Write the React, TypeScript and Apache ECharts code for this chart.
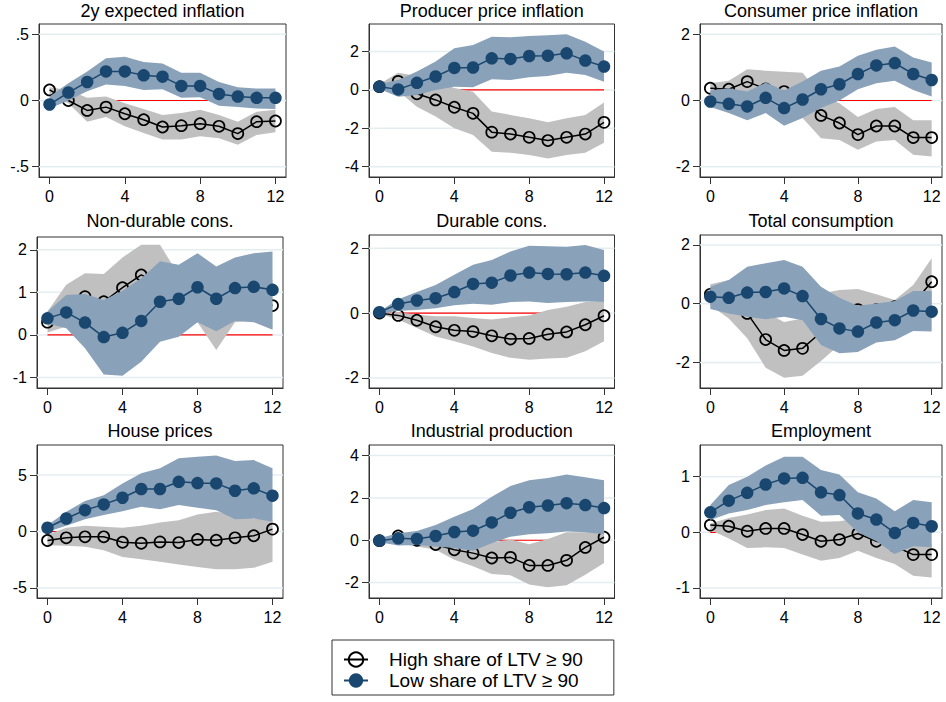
import React, { useEffect, useRef } from "react";
import * as echarts from "echarts";

const horizons = [0, 1, 2, 3, 4, 5, 6, 7, 8, 9, 10, 11, 12];
const xTicks = [0, 4, 8, 12];
const HIGH = "High share of LTV \u2265 90";
const LOW = "Low share of LTV \u2265 90";

// 2y expected inflation
const expHigh = [0.08, 0.0, -0.075, -0.05, -0.1, -0.145, -0.2, -0.19, -0.175, -0.195, -0.25, -0.16, -0.155];
const expHighLo = [0.03, -0.02, -0.16, -0.125, -0.195, -0.245, -0.295, -0.295, -0.27, -0.285, -0.335, -0.26, -0.24];
const expHighHi = [0.1, 0.08, 0.02, 0.03, -0.02, -0.065, -0.11, -0.095, -0.07, -0.11, -0.16, -0.085, -0.07];
const expLow = [-0.03, 0.06, 0.14, 0.22, 0.22, 0.19, 0.18, 0.11, 0.11, 0.05, 0.03, 0.02, 0.02];
const expLowLo = [-0.06, 0.0, 0.07, 0.12, 0.11, 0.08, 0.085, 0.02, 0.025, -0.04, -0.05, -0.06, -0.065];
const expLowHi = [0.03, 0.13, 0.22, 0.32, 0.33, 0.29, 0.28, 0.21, 0.21, 0.14, 0.1, 0.09, 0.09];

// Producer price inflation
const ppiHigh = [0.17, 0.45, -0.2, -0.52, -0.9, -1.22, -2.2, -2.3, -2.47, -2.64, -2.47, -2.3, -1.69];
const ppiHighLo = [0.03, -0.05, -0.87, -1.39, -2.0, -2.35, -3.22, -3.27, -3.39, -3.57, -3.39, -3.27, -2.75];
const ppiHighHi = [0.31, 0.9, 0.73, 0.4, 0.1, -0.1, -1.13, -1.3, -1.48, -1.69, -1.48, -1.3, -0.66];
const ppiLow = [0.17, 0.03, 0.37, 0.7, 1.15, 1.17, 1.65, 1.62, 1.77, 1.79, 1.91, 1.53, 1.22];
const ppiLowLo = [0.05, -0.35, -0.26, 0.0, 0.17, 0.14, 0.56, 0.52, 0.66, 0.73, 0.9, 0.78, 0.43];
const ppiLowHi = [0.31, 0.52, 0.96, 1.48, 2.17, 2.35, 2.78, 2.75, 2.82, 2.85, 2.9, 2.52, 2.0];

// Consumer price inflation
const cpiHigh = [0.37, 0.34, 0.57, 0.35, 0.27, 0.1, -0.45, -0.68, -1.03, -0.77, -0.77, -1.12, -1.12];
const cpiHighLo = [0.17, 0.12, 0.22, 0.02, -0.28, -0.53, -1.14, -1.19, -1.49, -1.24, -1.19, -1.64, -1.69];
const cpiHighHi = [0.52, 0.6, 0.94, 0.9, 0.87, 0.84, 0.14, -0.08, -0.5, -0.26, -0.2, -0.6, -0.6];
const cpiLow = [-0.03, -0.1, -0.18, 0.08, -0.23, 0.03, 0.34, 0.49, 0.8, 1.06, 1.13, 0.8, 0.62];
const cpiLowLo = [-0.2, -0.38, -0.6, -0.38, -0.76, -0.53, -0.23, 0.0, 0.34, 0.52, 0.6, 0.32, 0.12];
const cpiLowHi = [0.3, 0.37, 0.27, 0.54, 0.3, 0.57, 0.9, 1.03, 1.35, 1.53, 1.63, 1.3, 1.15];

// Non-durable consumption
const ndHigh = [0.3, 0.55, 0.9, 0.78, 1.11, 1.41, 1.2, 1.0, 0.8, 0.6, 0.8, 0.85, 0.69];
const ndHighLo = [0.06, 0.2, 0.3, 0.2, 0.4, 0.6, 0.2, 0.1, 0.3, -0.35, 0.3, 0.35, 0.15];
const ndHighHi = [0.55, 1.18, 1.45, 1.43, 1.82, 2.12, 2.12, 1.4, 1.5, 1.5, 1.6, 1.5, 1.3];
const ndLow = [0.39, 0.53, 0.29, -0.05, 0.05, 0.33, 0.78, 0.85, 1.12, 0.85, 1.1, 1.13, 1.06];
const ndLowLo = [0.27, 0.16, -0.31, -0.93, -0.96, -0.63, -0.16, -0.04, 0.3, 0.09, 0.33, 0.3, 0.12];
const ndLowHi = [0.55, 0.94, 0.96, 0.82, 1.04, 1.33, 1.73, 1.65, 1.92, 1.61, 1.82, 1.92, 1.96];

// Durable consumption
const durHigh = [0.0, -0.07, -0.22, -0.42, -0.53, -0.57, -0.7, -0.8, -0.78, -0.65, -0.58, -0.36, -0.08];
const durHighLo = [-0.03, -0.2, -0.46, -0.72, -0.87, -1.03, -1.23, -1.38, -1.44, -1.4, -1.38, -1.18, -0.87];
const durHighHi = [0.0, 0.03, -0.05, -0.1, -0.1, -0.15, -0.2, -0.13, -0.07, 0.1, 0.2, 0.34, 0.34];
const durLow = [0.03, 0.28, 0.39, 0.46, 0.65, 0.9, 0.94, 1.16, 1.25, 1.21, 1.2, 1.25, 1.15];
const durLowLo = [-0.03, 0.07, 0.1, 0.15, 0.24, 0.29, 0.26, 0.34, 0.36, 0.31, 0.34, 0.36, 0.34];
const durLowHi = [0.05, 0.43, 0.65, 0.87, 1.18, 1.49, 1.64, 1.9, 2.08, 2.06, 2.05, 2.1, 1.95];

// Total consumption
const totHigh = [0.32, 0.1, -0.33, -1.22, -1.59, -1.52, -0.97, -0.6, -0.2, -0.2, -0.1, 0.0, 0.75];
const totHighLo = [-0.05, -0.5, -1.18, -2.18, -2.52, -2.45, -1.95, -1.4, -1.1, -0.85, -0.8, -0.6, 0.0];
const totHighHi = [0.66, 0.81, 0.55, -0.3, -0.62, -0.5, 0.35, 0.47, 0.5, 0.32, 0.13, 0.64, 1.55];
const totLow = [0.24, 0.2, 0.38, 0.4, 0.52, 0.26, -0.52, -0.84, -0.95, -0.64, -0.56, -0.23, -0.27];
const totLowLo = [-0.18, -0.33, -0.44, -0.53, -0.44, -0.56, -1.41, -1.69, -1.64, -1.32, -1.24, -0.93, -0.95];
const totLowHi = [0.58, 0.81, 1.26, 1.38, 1.49, 1.26, 0.58, 0.2, -0.07, 0.01, 0.09, 0.43, 0.43];

// House prices
const hpHigh = [-0.8, -0.56, -0.47, -0.47, -0.95, -1.04, -0.92, -0.98, -0.71, -0.77, -0.56, -0.38, 0.21];
const hpHighLo = [-1.21, -1.27, -1.36, -1.66, -2.25, -2.46, -2.69, -2.93, -3.14, -3.34, -3.34, -3.22, -2.69];
const hpHighHi = [-0.27, 0.33, 0.5, 0.41, 0.33, 0.5, 0.8, 1.0, 1.5, 1.75, 1.5, 1.15, 1.0];
const hpLow = [0.33, 1.15, 1.89, 2.4, 2.99, 3.76, 3.76, 4.4, 4.29, 4.26, 3.61, 3.82, 3.17];
const hpLowLo = [-0.03, 0.5, 1.09, 1.45, 1.8, 2.19, 1.98, 2.34, 2.1, 1.89, 1.09, 1.15, 0.86];
const hpLowHi = [0.56, 1.75, 2.69, 3.22, 4.26, 5.15, 5.59, 6.48, 6.63, 6.72, 6.24, 6.33, 5.59];

// Industrial production
const ipHigh = [-0.02, 0.2, 0.0, -0.2, -0.45, -0.61, -0.84, -0.81, -1.19, -1.19, -0.95, -0.34, 0.14];
const ipHighLo = [-0.09, -0.14, -0.3, -0.45, -0.92, -1.23, -1.59, -1.66, -2.09, -2.22, -2.13, -1.63, -1.08];
const ipHighHi = [0.06, 0.33, 0.2, 0.1, 0.1, 0.0, -0.1, 0.03, -0.19, 0.06, 0.38, 0.38, 0.48];
const ipLow = [-0.02, 0.09, 0.06, 0.2, 0.39, 0.45, 0.84, 1.3, 1.56, 1.64, 1.75, 1.66, 1.52];
const ipLowLo = [-0.09, -0.25, -0.22, -0.3, -0.37, -0.5, -0.14, 0.17, 0.28, 0.33, 0.41, 0.38, 0.28];
const ipLowHi = [0.09, 0.33, 0.44, 0.72, 1.11, 1.47, 2.05, 2.56, 2.83, 2.94, 3.11, 2.98, 2.83];

// Employment
const empHigh = [0.13, 0.11, 0.02, 0.07, 0.07, -0.04, -0.16, -0.13, -0.02, -0.16, -0.25, -0.4, -0.4];
const empHighLo = [0.04, -0.11, -0.28, -0.27, -0.28, -0.4, -0.51, -0.46, -0.33, -0.46, -0.57, -0.78, -0.81];
const empHighHi = [0.16, 0.26, 0.32, 0.4, 0.43, 0.3, 0.19, 0.2, 0.26, 0.13, 0.0, -0.05, -0.2];
const empLow = [0.36, 0.57, 0.71, 0.86, 0.97, 0.98, 0.72, 0.67, 0.34, 0.23, -0.01, 0.17, 0.11];
const empLowLo = [0.22, 0.34, 0.4, 0.49, 0.54, 0.58, 0.3, 0.31, 0.0, -0.16, -0.39, -0.25, -0.27];
const empLowHi = [0.49, 0.85, 1.0, 1.2, 1.36, 1.36, 1.12, 1.04, 0.72, 0.61, 0.38, 0.58, 0.54];

const panelData = [
  { title: "2y expected inflation", yTicks: [-0.5, 0, 0.5], high: expHigh, highLo: expHighLo, highHi: expHighHi, low: expLow, lowLo: expLowLo, lowHi: expLowHi },
  { title: "Producer price inflation", yTicks: [-4, -2, 0, 2], high: ppiHigh, highLo: ppiHighLo, highHi: ppiHighHi, low: ppiLow, lowLo: ppiLowLo, lowHi: ppiLowHi },
  { title: "Consumer price inflation", yTicks: [-2, 0, 2], high: cpiHigh, highLo: cpiHighLo, highHi: cpiHighHi, low: cpiLow, lowLo: cpiLowLo, lowHi: cpiLowHi },
  { title: "Non-durable cons.", yTicks: [-1, 0, 1, 2], high: ndHigh, highLo: ndHighLo, highHi: ndHighHi, low: ndLow, lowLo: ndLowLo, lowHi: ndLowHi },
  { title: "Durable cons.", yTicks: [-2, 0, 2], high: durHigh, highLo: durHighLo, highHi: durHighHi, low: durLow, lowLo: durLowLo, lowHi: durLowHi },
  { title: "Total consumption", yTicks: [-2, 0, 2], high: totHigh, highLo: totHighLo, highHi: totHighHi, low: totLow, lowLo: totLowLo, lowHi: totLowHi },
  { title: "House prices", yTicks: [-5, 0, 5], high: hpHigh, highLo: hpHighLo, highHi: hpHighHi, low: hpLow, lowLo: hpLowLo, lowHi: hpLowHi },
  { title: "Industrial production", yTicks: [-2, 0, 2, 4], high: ipHigh, highLo: ipHighLo, highHi: ipHighHi, low: ipLow, lowLo: ipLowLo, lowHi: ipLowHi },
  { title: "Employment", yTicks: [-1, 0, 1], high: empHigh, highLo: empHighLo, highHi: empHighHi, low: empLow, lowLo: empLowLo, lowHi: empLowHi },
];

// layout (plot-region boxes in px) and axis ranges
const layout = [
  { left: 39, top: 24, right: 286, bottom: 177, ymin: -0.578, ymax: 0.578, titleY: 12 },
  { left: 369, top: 24, right: 614.5, bottom: 177, ymin: -4.54, ymax: 3.44, titleY: 12 },
  { left: 700, top: 24, right: 942, bottom: 177, ymin: -2.31, ymax: 2.31, titleY: 12 },
  { left: 37, top: 237, right: 283, bottom: 388, ymin: -1.245, ymax: 2.3, titleY: 221.5 },
  { left: 369, top: 235, right: 614.5, bottom: 388, ymin: -2.31, ymax: 2.41, titleY: 221.5 },
  { left: 700, top: 235, right: 942, bottom: 388, ymin: -2.87, ymax: 2.34, titleY: 221.5 },
  { left: 37, top: 445, right: 283, bottom: 598, ymin: -5.89, ymax: 7.66, titleY: 431.5 },
  { left: 369, top: 445, right: 614.5, bottom: 598, ymin: -2.73, ymax: 4.5, titleY: 431.5 },
  { left: 700, top: 445, right: 942, bottom: 598, ymin: -1.18, ymax: 1.57, titleY: 431.5 },
];

const FONT = "'Liberation Sans', Arial, Helvetica, sans-serif";
const NAVY = "#1a476f";
const BLUE_BAND = "#8aa2b9";
const GREY_BAND = "#c0c0c0";
const GRID_COLOR = "#e4edf0";
const AXIS_COLOR = "#333";

function fmtY(v: number) {
  if (Math.abs(v) < 1 && v !== 0) {
    return (v < 0 ? "-" : "") + String(Math.abs(v)).replace(/^0/, "");
  }
  return String(v);
}

function bandSeries(i: number, lo: number[], hi: number[], color: string, z: number) {
  return {
    type: "custom",
    xAxisIndex: i,
    yAxisIndex: i,
    silent: true,
    z,
    data: horizons.map((h, k) => [h, lo[k], hi[k]]),
    encode: { x: 0, y: [1, 2] },
    renderItem: (params: any, api: any) => {
      if (params.dataIndex !== 0) return null;
      const pts: number[][] = [];
      for (let k = 0; k < horizons.length; k++) pts.push(api.coord([horizons[k], hi[k]]));
      for (let k = horizons.length - 1; k >= 0; k--) pts.push(api.coord([horizons[k], lo[k]]));
      return { type: "polygon", shape: { points: pts }, style: { fill: color, stroke: "none" } };
    },
  };
}

function buildOption() {
  const grid: any[] = [];
  const xAxis: any[] = [];
  const yAxis: any[] = [];
  const title: any[] = [];
  const series: any[] = [];

  panelData.forEach((p, i) => {
    const L = layout[i];
    grid.push({
      left: L.left,
      top: L.top,
      width: L.right - L.left,
      height: L.bottom - L.top,
      show: true,
      borderColor: AXIS_COLOR,
      borderWidth: 1,
      backgroundColor: "transparent",
      containLabel: false,
    });
    xAxis.push({
      type: "value",
      gridIndex: i,
      min: -0.56,
      max: 12.56,
      axisLine: { show: true, onZero: false, lineStyle: { color: AXIS_COLOR, width: 1 } },
      axisTick: { show: true, customValues: xTicks, length: 7, lineStyle: { color: AXIS_COLOR } },
      axisLabel: { customValues: xTicks, fontSize: 16, color: "#000", margin: 11, fontFamily: FONT },
      splitLine: { show: false },
    });
    yAxis.push({
      type: "value",
      gridIndex: i,
      min: L.ymin,
      max: L.ymax,
      axisLine: { show: true, onZero: false, lineStyle: { color: AXIS_COLOR, width: 1 } },
      axisTick: { show: true, customValues: p.yTicks, length: 7, lineStyle: { color: AXIS_COLOR } },
      axisLabel: { customValues: p.yTicks, fontSize: 16, color: "#000", margin: 10, fontFamily: FONT, formatter: (v: number) => fmtY(v) },
      splitLine: { show: false },
    });
    title.push({
      text: p.title,
      left: (L.left + L.right) / 2,
      top: L.titleY - 10,
      textAlign: "center",
      padding: 0,
      textStyle: { fontSize: 18, fontWeight: "normal", color: "#000", fontFamily: FONT },
    });

    // gridlines at the y ticks
    series.push({
      type: "custom",
      xAxisIndex: i,
      yAxisIndex: i,
      silent: true,
      z: 1,
      data: p.yTicks.map((t) => [0, t]),
      encode: { x: 0, y: 1 },
      renderItem: (params: any, api: any) => {
        const cs = params.coordSys;
        const y = api.coord([0, api.value(1)])[1];
        return {
          type: "line",
          shape: { x1: cs.x, y1: y, x2: cs.x + cs.width, y2: y },
          style: { stroke: GRID_COLOR, lineWidth: 1.5 },
        };
      },
    });
    // zero reference line
    series.push({
      type: "line",
      xAxisIndex: i,
      yAxisIndex: i,
      data: [
        [horizons[0], 0],
        [horizons[horizons.length - 1], 0],
      ],
      symbol: "none",
      silent: true,
      lineStyle: { color: "#ff0000", width: 1.2 },
      z: 2,
    });
    series.push(bandSeries(i, p.highLo, p.highHi, GREY_BAND, 3));
    series.push({
      type: "line",
      name: HIGH,
      xAxisIndex: i,
      yAxisIndex: i,
      data: horizons.map((h, k) => [h, p.high[k]]),
      symbol: "circle",
      symbolSize: 11,
      showSymbol: true,
      itemStyle: { color: "rgba(0,0,0,0)", borderColor: "#000", borderWidth: 1.7 },
      lineStyle: { color: "#000", width: 1.5 },
      z: 4,
    });
    series.push(bandSeries(i, p.lowLo, p.lowHi, BLUE_BAND, 5));
    series.push({
      type: "line",
      name: LOW,
      xAxisIndex: i,
      yAxisIndex: i,
      data: horizons.map((h, k) => [h, p.low[k]]),
      symbol: "circle",
      symbolSize: 12.5,
      showSymbol: true,
      itemStyle: { color: NAVY, borderColor: NAVY, borderWidth: 0 },
      lineStyle: { color: NAVY, width: 1.5 },
      z: 6,
    });
  });

  return {
    animation: false,
    backgroundColor: "#ffffff",
    title,
    grid,
    xAxis,
    yAxis,
    legend: {
      show: true,
      data: [HIGH, LOW],
      orient: "vertical",
      left: 332,
      top: 640,
      padding: [10, 31, 5, 11],
      itemWidth: 24,
      itemHeight: 18,
      itemGap: 2,
      borderColor: AXIS_COLOR,
      borderWidth: 1,
      selectedMode: false,
      textStyle: { fontSize: 19, color: "#000", fontFamily: FONT, padding: [0, 0, 0, 16] },
    },
    series,
  };
}

export default function App() {
  const ref = useRef<HTMLDivElement>(null);
  useEffect(() => {
    if (!ref.current) return;
    const chart = echarts.init(ref.current, undefined, { renderer: "svg" });
    chart.setOption(buildOption() as any);
    return () => chart.dispose();
  }, []);
  return (
    <div
      ref={ref}
      style={{ position: "fixed", left: 0, top: 0, width: 946, height: 702, background: "#fff" }}
    />
  );
}
